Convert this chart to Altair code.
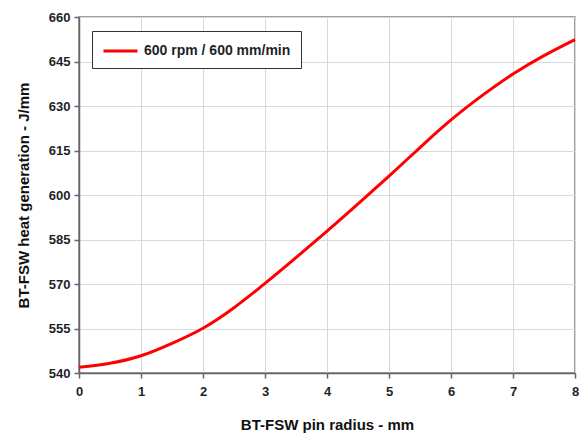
import altair as alt
import pandas as pd

# Data
pin_radius_mm = [0, 0.5, 1, 1.5, 2, 2.5, 3, 3.5, 4, 4.5, 5, 5.5, 6, 6.5, 7, 7.5, 8]
heat_generation = [541.9, 543.3, 545.8, 550.0, 555.1, 562.0, 570.2, 578.9, 587.8,
                   597.0, 606.4, 616.0, 625.3, 633.5, 640.8, 647.0, 652.4]
series_name = "600 rpm / 600 mm/min"
y_ticks = [540, 555, 570, 585, 600, 615, 630, 645, 660]
x_ticks = [0, 1, 2, 3, 4, 5, 6, 7, 8]

df = pd.DataFrame({
    "r": pin_radius_mm,
    "q": heat_generation,
    "series": [series_name] * len(pin_radius_mm),
})

FONT = "Liberation Sans"

chart = alt.Chart(df).mark_line(
    interpolate="natural", strokeWidth=3
).encode(
    x=alt.X("r:Q",
            scale=alt.Scale(domain=[0, 8], nice=False, zero=False),
            axis=alt.Axis(values=x_ticks, title="BT-FSW pin radius - mm",
                          labelPadding=7, titlePadding=19, tickSize=5,
                          labelFlush=False)),
    y=alt.Y("q:Q",
            scale=alt.Scale(domain=[540, 660], nice=False, zero=False),
            axis=alt.Axis(values=y_ticks, title="BT-FSW heat generation - J/mm",
                          labelPadding=4, titlePadding=17, tickSize=5,
                          labelFlush=False)),
    color=alt.Color("series:N",
                    scale=alt.Scale(domain=[series_name], range=["#ff0000"]),
                    legend=alt.Legend(title=None, orient="none", legendX=13, legendY=14,
                                      symbolType="M-1,0H3", symbolSize=289,
                                      symbolStrokeWidth=3, labelFont=FONT,
                                      labelFontSize=14, labelFontWeight="bold",
                                      labelColor="#1f1f2a", padding=10,
                                      strokeColor="#333333", fillColor="white",
                                      labelOffset=22)),
).properties(
    width=496,
    height=356,
    autosize=alt.AutoSizeParams(type="none"),
    padding={"left": 71, "top": 9, "right": 5, "bottom": 61},
).configure_view(
    stroke="#808080", strokeWidth=1.5
).configure_axis(
    labelFont=FONT, labelFontSize=13, labelFontWeight="bold", labelColor="#1f1f2a",
    titleFont=FONT, titleFontSize=15, titleFontWeight="bold", titleColor="#111111",
    gridColor="#d9d9d9", gridWidth=1,
    domainColor="#666666", domainWidth=1.5,
    tickColor="#666666", tickWidth=1.5,
)

chart.save("out.html", embed_options={"renderer": "svg", "actions": False})
